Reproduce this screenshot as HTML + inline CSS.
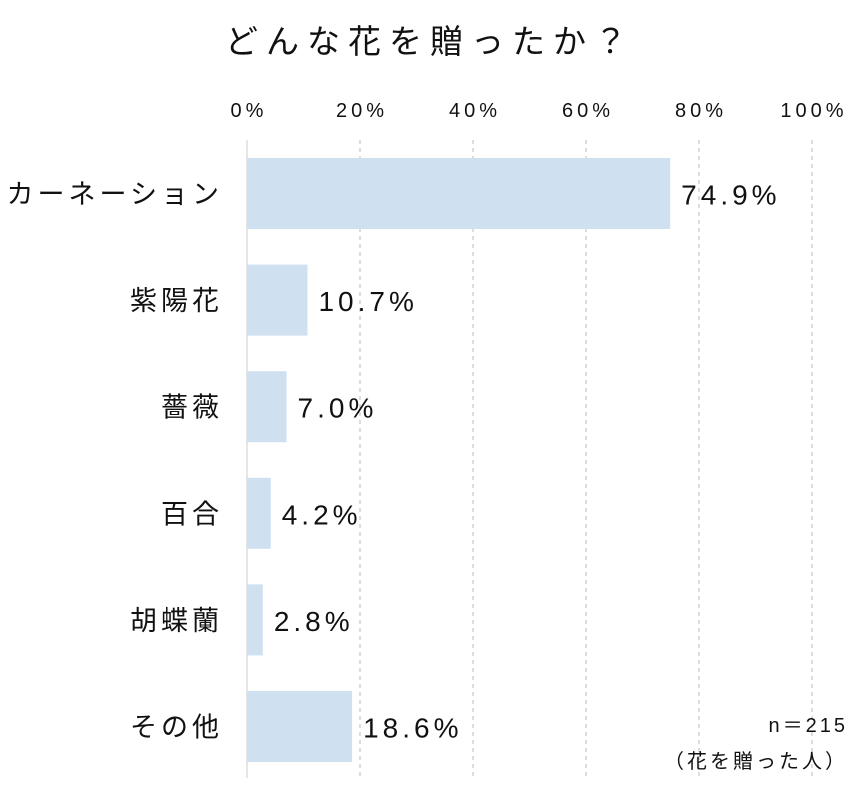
<!DOCTYPE html>
<html><head><meta charset="utf-8"><style>
body{margin:0;background:#fff;}
svg text{font-family:"Liberation Sans","Noto Sans CJK JP",sans-serif;fill:#111;}
</style></head><body>
<svg id="chart" width="854" height="794" xmlns="http://www.w3.org/2000/svg">
<text x="430" y="53" font-size="33" text-anchor="middle" letter-spacing="8">どんな花を贈ったか？</text>
<g id="grid"></g><g id="bars"></g>
<text x="848" y="732" font-size="20" text-anchor="end" letter-spacing="3">n＝215</text>
<text x="848" y="768" font-size="20" text-anchor="end" letter-spacing="3">（花を贈った人）</text>
</svg>
<script>
const categories=["カーネーション","紫陽花","薔薇","百合","胡蝶蘭","その他"];
const values=[74.9,10.7,7.0,4.2,2.8,18.6];
const ticks=[0,20,40,60,80,100];
const NS="http://www.w3.org/2000/svg";
const x0=247,pxPer=5.65,top0=158,step=106.6,bh=71;
const xs=v=>x0+v*pxPer;
const grid=document.getElementById('grid'),bars=document.getElementById('bars');
function mk(t,a,p){const e=document.createElementNS(NS,t);for(const k in a)e.setAttribute(k,a[k]);p.appendChild(e);return e;}
ticks.forEach(t=>{
 const l=mk('line',{x1:xs(t),x2:xs(t),y1:140,y2:778,stroke:t===0?'#ccc':'#bbb','stroke-dasharray':t===0?'':'4,4','stroke-width':1},grid);
 
 
 const tx=mk('text',{x:xs(t)+2,y:117,'font-size':20,'text-anchor':'middle','letter-spacing':4},grid);
 tx.textContent=t+'%';
 
 
});
categories.forEach((c,i)=>{
 const y=top0+i*step;
 const r=mk('rect',{x:x0,y:y,width:xs(values[i])-x0,height:bh,fill:'#cfe0f1'},bars);
 
 
 const lb=mk('text',{x:223,y:y+bh/2+10,'font-size':27,'text-anchor':'end','letter-spacing':4},bars);
 lb.textContent=c;
 
 
 const v=mk('text',{x:xs(values[i])+11,y:y+bh/2+11,'font-size':28,'letter-spacing':4},bars);
 v.textContent=values[i].toFixed(1)+'%';
 
 
});
</script>
</body></html>
